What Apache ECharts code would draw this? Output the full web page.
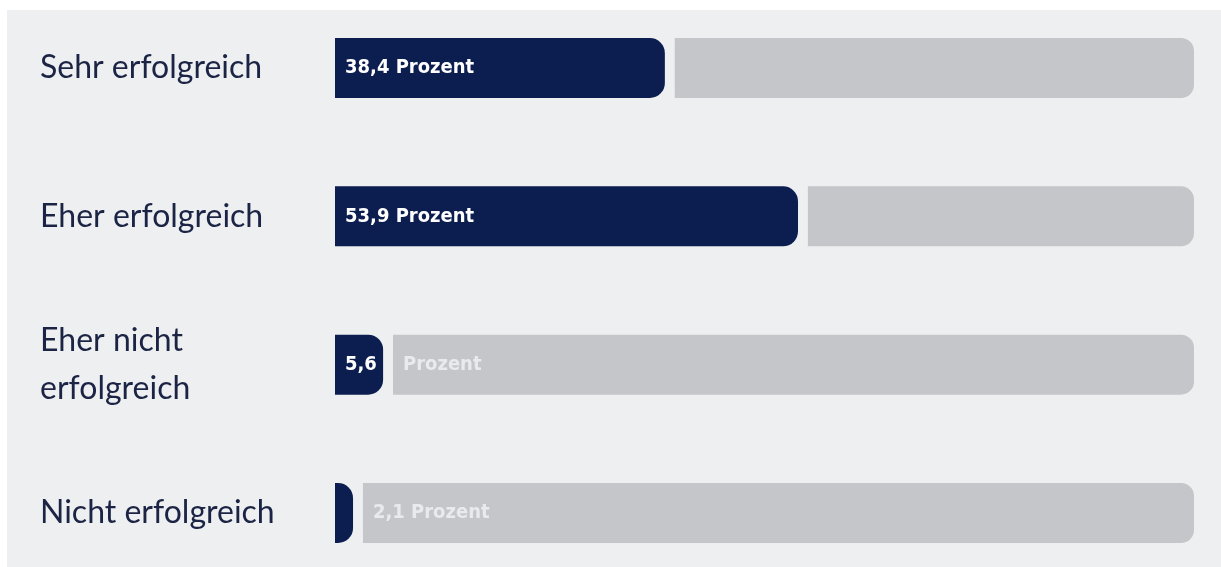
<!DOCTYPE html>
<html><head><meta charset="utf-8">
<script src="https://cdn.jsdelivr.net/npm/echarts@6/dist/echarts.min.js"></script>
<style>html,body{margin:0;padding:0;background:#fff}#c{width:1221px;height:567px}</style>
</head><body><div id="c"></div>
<script>
const categories = ['Sehr erfolgreich', 'Eher erfolgreich', 'Eher nicht\nerfolgreich', 'Nicht erfolgreich'];
const values = [38.4, 53.9, 5.6, 2.1];
const darkLabels = ['38,4 Prozent', '53,9 Prozent', '5,6', ''];
const grayLabels = ['', '', 'Prozent', '2,1 Prozent'];
const GAP = 1.15;

const chart = echarts.init(document.getElementById('c'), null, {renderer: 'canvas'});
const navy = '#0c1e50';
const grayBar = '#c5c6c9';
const labelFont = '"DejaVu Sans Condensed", "Liberation Sans Narrow", sans-serif';
chart.setOption({
  backgroundColor: '#ffffff',
  animation: false,
  graphic: [{type: 'rect', shape: {x: 7, y: 10, width: 1214, height: 557}, style: {fill: '#eeeff1'}, z: -10}],
  grid: {left: 335, width: 859, top: 68, height: 445, containLabel: false},
  xAxis: {type: 'value', min: 0, max: 100, show: false},
  yAxis: {
    type: 'category', data: categories, inverse: true, boundaryGap: false,
    axisLine: {show: false}, axisTick: {show: false}, splitLine: {show: false},
    axisLabel: {align: 'left', margin: 295, color: '#1b2444', fontSize: 32, lineHeight: 48,
      padding: [0, 0, 6, 0], fontFamily: 'Lato, "Open Sans", sans-serif'}
  },
  series: [
    {type: 'bar', stack: 's', barWidth: 60, data: values.map((v, i) => ({value: v,
        label: {show: !!darkLabels[i], formatter: darkLabels[i]}})),
     itemStyle: {color: navy, borderRadius: [0, 15, 15, 0]},
     label: {position: 'insideLeft', distance: 10, color: '#fff', fontWeight: 'bold', fontSize: 20,
       fontFamily: labelFont}},
    {type: 'bar', stack: 's', data: values.map(() => GAP), itemStyle: {color: 'transparent'}, silent: true},
    {type: 'bar', stack: 's', data: values.map((v, i) => ({value: 100 - v - GAP,
        label: {show: !!grayLabels[i], formatter: grayLabels[i]}})),
     itemStyle: {color: grayBar, borderRadius: [0, 13, 13, 0]},
     label: {position: 'insideLeft', distance: 10, color: '#e9eaed', fontWeight: 'bold', fontSize: 20,
       fontFamily: labelFont}}
  ]
});
</script></body></html>
